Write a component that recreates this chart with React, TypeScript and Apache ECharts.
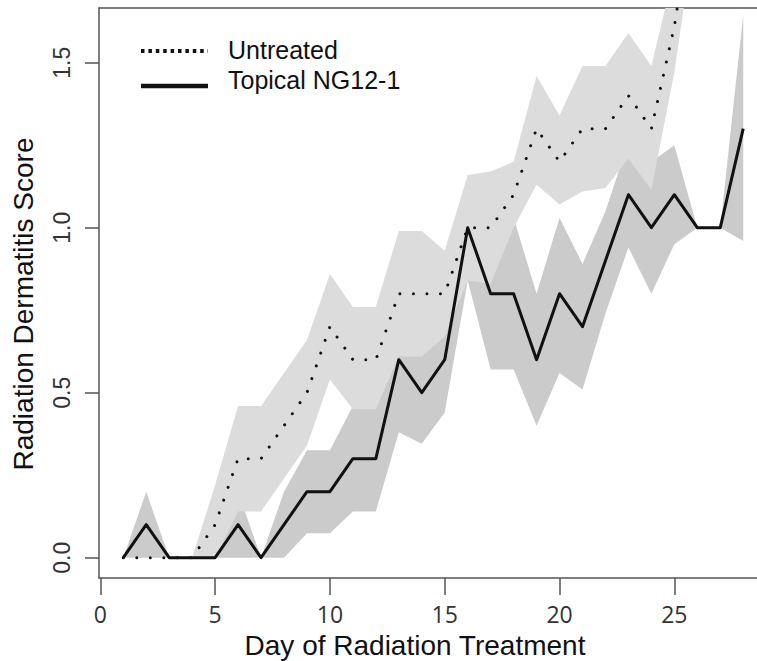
import React, { useEffect, useRef } from "react";
import * as echarts from "echarts";

const days = [1, 2, 3, 4, 5, 6, 7, 8, 9, 10, 11, 12, 13, 14, 15, 16, 17, 18, 19, 20, 21, 22, 23, 24, 25, 26, 27, 28];

const topicalMean = [0, 0.1, 0, 0, 0, 0.1, 0, 0.1, 0.2, 0.2, 0.3, 0.3, 0.6, 0.5, 0.6, 1.0, 0.8, 0.8, 0.6, 0.8, 0.7, 0.9, 1.1, 1.0, 1.1, 1.0, 1.0, 1.3];
const topicalLower = [0, 0, 0, 0, 0, 0, 0, 0, 0.074, 0.074, 0.14, 0.14, 0.38, 0.345, 0.44, 0.84, 0.57, 0.57, 0.4, 0.56, 0.51, 0.74, 0.94, 0.8, 0.95, 1.0, 1.0, 0.96];
const topicalUpper = [0, 0.2, 0, 0, 0, 0.2, 0, 0.2, 0.326, 0.326, 0.46, 0.46, 0.82, 0.65, 0.76, 1.16, 1.03, 1.03, 0.8, 1.03, 0.89, 1.05, 1.26, 1.2, 1.25, 1.0, 1.0, 1.645];

const untreatedMean = [0, 0, 0, 0, 0.1, 0.3, 0.3, 0.4, 0.5, 0.7, 0.6, 0.6, 0.8, 0.8, 0.8, 1.0, 1.0, 1.1, 1.3, 1.2, 1.3, 1.3, 1.4, 1.3, 1.61, 2.05, null, null];
const untreatedLower = [0, 0, 0, 0, 0, 0.14, 0.14, 0.24, 0.34, 0.54, 0.45, 0.45, 0.61, 0.61, 0.67, 0.84, 0.83, 1.0, 1.13, 1.07, 1.11, 1.12, 1.21, 1.115, 1.47, 1.95, null, null];
const untreatedUpper = [0, 0, 0, 0, 0.22, 0.46, 0.46, 0.56, 0.66, 0.86, 0.76, 0.76, 0.99, 0.99, 0.93, 1.16, 1.17, 1.2, 1.46, 1.34, 1.49, 1.49, 1.59, 1.49, 1.78, 2.3, null, null];

const xTicks = [0, 5, 10, 15, 20, 25];
const yTicks = [0, 0.5, 1.0, 1.5];

const seriesNames = ["Untreated", "Topical NG12-1"];
const xTitle = "Day of Radiation Treatment";
const yTitle = "Radiation Dermatitis Score";

function pairs(vals: (number | null)[]) {
  const out: [number, number][] = [];
  vals.forEach((v, i) => {
    if (v !== null && v !== undefined) out.push([days[i], v]);
  });
  return out;
}

type Pt = [number, number];
function clipTop(pts: Pt[], top: number): Pt[] {
  const out: Pt[] = [];
  const n = pts.length;
  const inter = (p: Pt, c: Pt): Pt => {
    const t = (top - p[1]) / (c[1] - p[1]);
    return [p[0] + t * (c[0] - p[0]), top];
  };
  for (let i = 0; i < n; i++) {
    const cur = pts[i];
    const prev = pts[(i - 1 + n) % n];
    const curIn = cur[1] >= top;
    const prevIn = prev[1] >= top;
    if (curIn) {
      if (!prevIn) out.push(inter(prev, cur));
      out.push(cur);
    } else if (prevIn) {
      out.push(inter(prev, cur));
    }
  }
  return out;
}

function bandSeries(lower: (number | null)[], upper: (number | null)[], color: string) {
  return {
    type: "custom",
    silent: true,
    data: [[days[0], 0]],
    renderItem: (params: any, api: any) => {
      const idx: number[] = [];
      days.forEach((_, i) => {
        if (lower[i] !== null && upper[i] !== null) idx.push(i);
      });
      const pts: Pt[] = [];
      idx.forEach((i) => pts.push(api.coord([days[i], upper[i]])));
      idx
        .slice()
        .reverse()
        .forEach((i) => pts.push(api.coord([days[i], lower[i]])));
      const top = params.coordSys.y;
      return {
        type: "polygon",
        shape: { points: clipTop(pts, top) },
        style: { fill: color, stroke: null },
      };
    },
  };
}

const X_MIN = -0.057;
const X_MAX = 28.6;
const Y_MIN = -0.0615;
const Y_MAX = 1.6658;
const AXIS_COLOR = "#555555";

export default function App() {
  const ref = useRef<HTMLDivElement>(null);
  useEffect(() => {
    if (!ref.current) return;
    const chart = echarts.init(ref.current, null, { renderer: "svg" });
    const option: any = {
      animation: false,
      backgroundColor: "#ffffff",
      grid: { left: 99, top: 8, right: 0, bottom: 83, show: false },
      xAxis: [
        {
          type: "value",
          min: X_MIN,
          max: X_MAX,
          axisLine: { show: true, onZero: false, lineStyle: { color: AXIS_COLOR, width: 1.5 } },
          axisTick: { show: true, length: 17, customValues: xTicks, lineStyle: { color: AXIS_COLOR, width: 1.5 } },
          axisLabel: {
            customValues: xTicks,
            fontFamily: "Open Sans",
            fontSize: 23,
            color: "#333333",
            margin: 24,
          },
          splitLine: { show: false },
        },
        {
          type: "value",
          position: "top",
          min: X_MIN,
          max: X_MAX,
          axisLine: { show: true, onZero: false, lineStyle: { color: AXIS_COLOR, width: 1.5 } },
          axisTick: { show: false },
          axisLabel: { show: false },
          splitLine: { show: false },
        },
      ],
      yAxis: {
        type: "value",
        min: Y_MIN,
        max: Y_MAX,
        axisLine: { show: true, onZero: false, lineStyle: { color: AXIS_COLOR, width: 1.5 } },
        axisTick: { show: true, length: 14, customValues: yTicks, lineStyle: { color: AXIS_COLOR, width: 1.5 } },
        axisLabel: {
          customValues: yTicks,
          rotate: 90,
          formatter: (v: number) => v.toFixed(1),
          fontFamily: "Liberation Sans",
          fontSize: 23,
          color: "#333333",
          margin: 26,
        },
        splitLine: { show: false },
      },
      series: [
        bandSeries(topicalLower, topicalUpper, "#cbcbcb"),
        bandSeries(untreatedLower, untreatedUpper, "#dcdcdc"),
        {
          name: seriesNames[0],
          type: "line",
          data: pairs(untreatedMean),
          symbol: "none",
          lineStyle: { color: "#111111", width: 3, type: [0.01, 13.5], cap: "round" },
        },
        {
          name: seriesNames[1],
          type: "line",
          data: pairs(topicalMean),
          symbol: "none",
          lineStyle: { color: "#111111", width: 3, join: "round" },
        },
      ],
      graphic: [
        {
          type: "line",
          z: 100,
          shape: { x1: 141, y1: 51, x2: 208, y2: 51 },
          style: { stroke: "#111111", lineWidth: 4, lineDash: [3.5, 3.9] },
        },
        {
          type: "line",
          z: 100,
          shape: { x1: 141, y1: 86, x2: 208, y2: 86 },
          style: { stroke: "#111111", lineWidth: 4.5 },
        },
        {
          type: "text",
          z: 100,
          x: 228,
          y: 50,
          style: { text: seriesNames[0], font: "25px 'Liberation Sans'", fill: "#111111", verticalAlign: "middle", align: "left" },
        },
        {
          type: "text",
          z: 100,
          x: 228,
          y: 80,
          style: { text: seriesNames[1], font: "25px 'Liberation Sans'", fill: "#111111", verticalAlign: "middle", align: "left" },
        },
        {
          type: "text",
          z: 100,
          x: 415,
          y: 645,
          style: { text: xTitle, font: "28px 'Liberation Sans'", fill: "#111111", verticalAlign: "middle", align: "center" },
        },
        {
          type: "text",
          z: 100,
          x: 23,
          y: 304,
          rotation: Math.PI / 2,
          style: { text: yTitle, font: "28px 'Liberation Sans'", fill: "#111111", verticalAlign: "middle", align: "center" },
        },
      ],
    };
    chart.setOption(option);
    return () => chart.dispose();
  }, []);
  return (
    <div
      ref={ref}
      style={{ position: "absolute", left: 0, top: 0, width: 757, height: 661, background: "#fff" }}
    />
  );
}
